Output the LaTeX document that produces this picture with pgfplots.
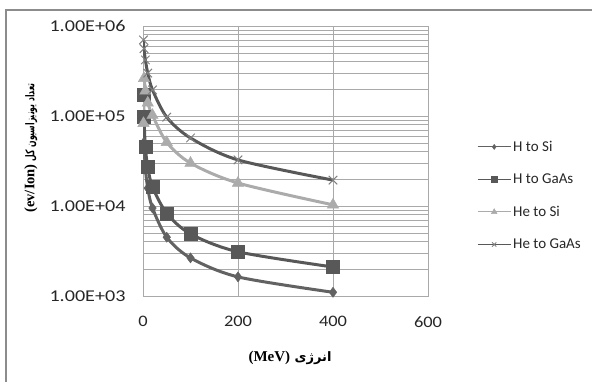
\documentclass[border=0pt]{standalone}
\usepackage{fontspec}
\setmainfont{Carlito}
\newfontfamily\ytickfont[FakeStretch=1.22]{Carlito}
\newfontfamily\xtickfont[FakeStretch=1.15]{Carlito}
\newfontfamily\arabicfont[Script=Arabic]{DejaVu Sans}
\newfontfamily\arabicnarrow[Script=Arabic,FakeStretch=0.64]{DejaVu Sans}
\newfontfamily\tnr{Liberation Serif}
\TeXXeTstate=1
\usepackage{pgfplots}
\usepackage{pgfplotstable}
\pgfplotsset{compat=1.18}
\definecolor{darkser}{HTML}{626262}
\definecolor{darkser2}{HTML}{585858}
\definecolor{lightser}{HTML}{ABABAB}
\definecolor{gridc}{HTML}{A9A9A9}
\definecolor{framec}{HTML}{8C8C8C}

\pgfplotstableread{
x y
1 88000
2 51000
5 26000
10 15800
20 9500
50 4500
100 2650
200 1630
400 1100
}\HtoSi
\pgfplotstableread{
x y
1 171000
2 97500
5 45000
10 27000
20 16300
50 8300
100 4900
200 3100
400 2100
}\HtoGaAs
\pgfplotstableread{
x y
1 83000
2 262000
5 190000
10 140000
20 102000
50 51000
100 30000
200 18000
400 10300
}\HetoSi
\pgfplotstableread{
x y
1 700000
2 560000
5 420000
10 300000
20 195000
50 97000
100 57000
200 32500
400 19400
}\HetoGaAs

\begin{document}
\begin{tikzpicture}[x=1pt,y=1pt]
\path[use as bounding box] (0,0) rectangle (592,381);
\draw[color=framec, line width=1.5pt] (6,-10) rectangle (610,371);
\begin{axis}[
  at={(143pt,85pt)}, anchor=south west,
  scale only axis, width=285pt, height=270pt,
  xmin=0, xmax=600, ymin=1000, ymax=1000000, ymode=log,
  xtick={0,200,400,600}, xticklabels={0,200,400,600},
  ytick={1000,10000,100000,1000000},
  yticklabels={1.00E+03,1.00E+04,1.00E+05,1.00E+06},
  xmajorgrids, ymajorgrids, yminorgrids,
  grid style={gridc, line width=0.8pt},
  minor grid style={gridc, line width=0.8pt},
  major grid style={gridc, line width=0.8pt},
  axis line style={gridc, line width=0.8pt},
  major tick length=0pt, minor tick length=0pt,
  xticklabel style={font=\xtickfont\fontsize{16}{19}\selectfont, text=black!85, yshift=-17pt},
  yticklabel style={font=\ytickfont\fontsize{16.5}{19}\selectfont, text=black!85, xshift=-14pt},
  legend style={draw=none, fill=none, at={(1.172,0.372)}, anchor=west,
    inner sep=0pt, row sep=17pt, font=\fontsize{15}{18}\selectfont,
    text=black!85},
  legend cell align=left,
  legend image code/.code={\draw[mark repeat=2,mark phase=2,#1,line width=1pt,every mark/.append style={scale=0.5}] plot coordinates {(0pt,0pt)(16.5pt,0pt)(33pt,0pt)};},
]
\addplot[darkser, line width=3pt, smooth, mark=diamond*, mark size=5pt, mark options={line width=0.5pt}] table[x=x,y=y] {\HtoSi};
\addlegendentry{H to Si}
\addplot[darkser2, line width=3pt, smooth, mark=square*, mark size=6.5pt, mark options={line width=0.5pt}] table[x=x,y=y] {\HtoGaAs};
\addlegendentry{H to GaAs}
\addplot[lightser, line width=3pt, smooth, mark=triangle*, mark size=6.5pt, mark options={line width=0.5pt}] table[x=x,y=y] {\HetoSi};
\addlegendentry{He to Si}
\addplot[darkser2, line width=3pt, smooth, mark=x, mark size=6pt, mark options={line width=1pt, color=gray}] table[x=x,y=y] {\HetoGaAs};
\addlegendentry{He to GaAs}
\end{axis}
\node[font=\arabicfont\bfseries\fontsize{13}{15}\selectfont] at (290,23) {\beginR انرژی \beginL{\tnr\bfseries\fontsize{15}{17}\selectfont (MeV)}\endL\endR};
\node[rotate=90, inner sep=0pt, font=\arabicnarrow\bfseries\fontsize{12}{14}\selectfont] at (31,233) {\beginR تعداد یونیزاسیون کل \beginL{\tnr\bfseries\fontsize{14.5}{16}\selectfont (ev/Ion)}\endL\endR};
\end{tikzpicture}
\end{document}
